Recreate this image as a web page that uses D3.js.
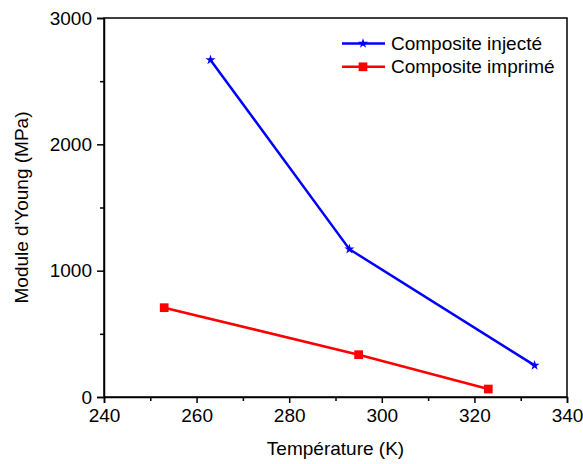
<!DOCTYPE html>
<html><head><meta charset="utf-8">
<script src="https://cdn.jsdelivr.net/npm/d3@7"></script>
<style>body{margin:0;background:#fff}svg{display:block}text{font-family:"Liberation Sans",Arial,sans-serif}</style>
</head><body><svg id="c" width="583" height="464"></svg>
<script>
const injTemp = [263, 293, 333];
const injMod = [2668, 1170, 250];
const impTemp = [253, 295, 323];
const impMod = [707, 335, 63];
const xTicks = [240, 260, 280, 300, 320, 340];
const yTicks = [0, 1000, 2000, 3000];
const seriesNames = ["Composite injecté", "Composite imprimé"];
const seriesColors = ["#0000ff", "#ff0000"];

const svg = d3.select("#c");
const L = 104, R = 567, T = 18, B = 397;
const x = d3.scaleLinear().domain([240, 340]).range([L, R]);
const y = d3.scaleLinear().domain([0, 3000]).range([B, T]);
const fs = "19px";

// frame
svg.append("rect").attr("x", L).attr("y", T).attr("width", R - L).attr("height", B - T)
  .attr("fill", "none").attr("stroke", "#000").attr("stroke-width", 1.5);

// x axis
const xAxis = svg.append("g").attr("transform", `translate(0,${B})`)
  .call(d3.axisBottom(x).tickValues(xTicks).tickSize(6).tickPadding(6).tickFormat(d3.format("d")));
xAxis.select(".domain").attr("stroke-width", 1.5);
xAxis.selectAll(".tick line").attr("stroke-width", 1.5);
xAxis.selectAll("text").style("font-size", fs).attr("fill", "#000");
svg.append("g").attr("transform", `translate(0,${B})`)
  .call(d3.axisBottom(x).tickValues(d3.range(250, 340, 20)).tickSize(4).tickFormat(""))
  .call(g => g.select(".domain").remove())
  .selectAll("line").attr("stroke-width", 1.5);

// y axis
const yAxis = svg.append("g").attr("transform", `translate(${L},0)`)
  .call(d3.axisLeft(y).tickValues(yTicks).tickSize(7).tickPadding(5).tickFormat(d3.format("d")));
yAxis.select(".domain").attr("stroke-width", 1.5);
yAxis.selectAll(".tick line").attr("stroke-width", 1.5);
yAxis.selectAll("text").style("font-size", fs).attr("fill", "#000");
svg.append("g").attr("transform", `translate(${L},0)`)
  .call(d3.axisLeft(y).tickValues([500, 1500, 2500]).tickSize(4).tickFormat(""))
  .call(g => g.select(".domain").remove())
  .selectAll("line").attr("stroke-width", 1.5);

// titles
svg.append("text").attr("x", (L + R) / 2).attr("y", 455).attr("text-anchor", "middle")
  .style("font-size", fs).text("Température (K)");
svg.append("text").attr("transform", `translate(28,${(T + B) / 2}) rotate(-90)`)
  .attr("text-anchor", "middle").style("font-size", fs).text("Module d'Young (MPa)");

const line = d3.line().x(d => x(d[0])).y(d => y(d[1]));
const star = d3.symbol().type(d3.symbolStar).size(32);
const sq = d3.symbol().type(d3.symbolSquare).size(76);

const inj = injTemp.map((t, i) => [t, injMod[i]]);
const imp = impTemp.map((t, i) => [t, impMod[i]]);

svg.append("path").datum(inj).attr("d", line).attr("fill", "none")
  .attr("stroke", seriesColors[0]).attr("stroke-width", 2.5);
svg.selectAll(".st").data(inj).join("path").attr("d", star)
  .attr("transform", d => `translate(${x(d[0])},${y(d[1])})`).attr("fill", seriesColors[0]);

svg.append("path").datum(imp).attr("d", line).attr("fill", "none")
  .attr("stroke", seriesColors[1]).attr("stroke-width", 2.5);
svg.selectAll(".sq").data(imp).join("path").attr("d", sq)
  .attr("transform", d => `translate(${x(d[0])},${y(d[1])})`).attr("fill", seriesColors[1]);

// legend
const lg = svg.append("g");
[0, 1].forEach(i => {
  const yy = 43.5 + i * 23.3;
  lg.append("line").attr("x1", 342).attr("x2", 385).attr("y1", yy).attr("y2", yy)
    .attr("stroke", seriesColors[i]).attr("stroke-width", 2.5);
  lg.append("path").attr("d", i === 0 ? star() : sq())
    .attr("transform", `translate(363,${yy})`).attr("fill", seriesColors[i]);
  lg.append("text").attr("x", 391).attr("y", yy + 6.5).style("font-size", fs).text(seriesNames[i]);
});
</script></body></html>
